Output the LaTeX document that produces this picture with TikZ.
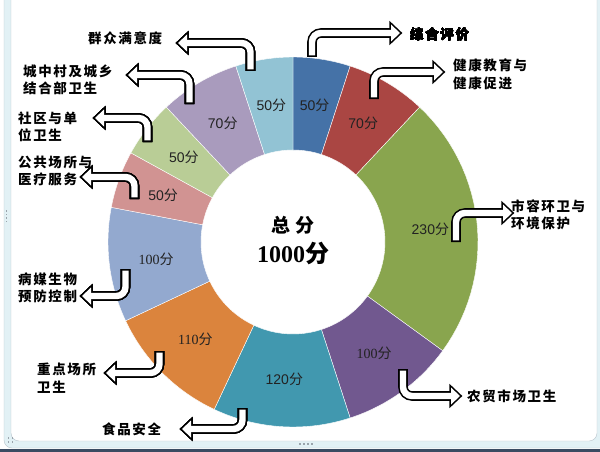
\documentclass[tikz,border=0pt]{standalone}
\usepackage{fontspec}
\setmainfont{Liberation Serif}
\setsansfont{Liberation Sans}
\newfontfamily\cjk{Noto Sans CJK SC}
\newfontfamily\cjkwide[LetterSpace=12]{Noto Sans CJK SC}
\usetikzlibrary{calc}
\definecolor{segA}{HTML}{4572A7}
\definecolor{segB}{HTML}{AA4643}
\definecolor{segC}{HTML}{89A54E}
\definecolor{segD}{HTML}{71588F}
\definecolor{segE}{HTML}{4198AF}
\definecolor{segF}{HTML}{DB843D}
\definecolor{segG}{HTML}{93A9CF}
\definecolor{segH}{HTML}{D19392}
\definecolor{segI}{HTML}{B9CD96}
\definecolor{segJ}{HTML}{A99BBD}
\definecolor{segK}{HTML}{92C3D4}
\definecolor{framegrey}{HTML}{B8C4CC}
\definecolor{framebg}{HTML}{E2F1F5}
\definecolor{barcol}{HTML}{3A4B62}
\definecolor{handle}{HTML}{9AA4AC}
\definecolor{labeltext}{HTML}{222222}
\newcommand{\fen}{{\cjk 分}}
\tikzset{
  arrowout/.style={line width=9.6pt, rounded corners=9pt, black},
  arrowin/.style={line width=6.4pt, rounded corners=9pt, white, shorten <=1.6pt},
  headout/.style={fill=black, draw=black, line width=3.2pt},
  valuelabel/.style={inner sep=0pt, text=labeltext, font=\fontsize{14}{16}\selectfont},
  callout/.style={anchor=west, align=left, inner sep=0pt,
    font=\cjkwide\bfseries\fontsize{13.5}{17.5}\selectfont}
}
\newcommand{\bentarrow}[3]{%
  \draw[arrowout] (#1) -- (#1 |- #2) -- ([xshift=#3]#2);
  \filldraw[headout] (#2) -- ([xshift=#3,yshift=8.5pt]#2) -- ([xshift=#3,yshift=-8.5pt]#2) -- cycle;
  \draw[arrowin] (#1) -- (#1 |- #2) -- ([xshift=#3]#2);
  \fill[white] (#2) -- ([xshift=#3,yshift=8.5pt]#2) -- ([xshift=#3,yshift=-8.5pt]#2) -- cycle;
}
\begin{document}
\begin{tikzpicture}[x=1pt,y=-1pt]
\useasboundingbox (0,0) rectangle (600,452);
% chart frame
\draw[framegrey, fill=framebg, rounded corners=8pt] (4,-12) rectangle (612,448);
\draw[framegrey, fill=white, rounded corners=8pt] (11,-12) rectangle (597,441);
\fill[barcol] (0,449) rectangle (600,452);
\foreach \y in {210,213.5,217,220.5}
\fill[handle] (5.5,\y) rectangle +(1.8,1.8);
\foreach \x in {299,303,307,311}
\fill[handle] (\x,443) rectangle +(1.8,1.8);
\foreach \x/\y in {7.5/437,11.5/437,7.5/441,11.5/441}
\fill[handle] (\x,\y) rectangle +(1.8,1.8);
% ring
\begin{scope}[shift={(293,242)}]
\foreach \a/\b/\c in {0/50/segA,50/120/segB,120/350/segC,350/450/segD,450/570/segE,570/680/segF,680/780/segG,780/830/segH,830/880/segI,880/950/segJ,950/1000/segK}
{
\pgfmathsetmacro\sa{-90+0.36*\a}
\pgfmathsetmacro\sb{-90+0.36*\b}
\fill[\c, draw=white, line width=0.4pt] plot[domain=\sa:\sb, samples=30] (\x:185) -- plot[domain=\sb:\sa, samples=30] (\x:92) -- cycle;
}
\foreach \a/\b/\pts/\fnt [count=\i] in {0/50/50/\sffamily,50/120/70/\sffamily,120/350/230/\sffamily,350/450/100/\rmfamily,450/570/120/\sffamily,570/680/110/\rmfamily,680/780/100/\rmfamily,780/830/50/\sffamily,830/880/50/\sffamily,880/950/70/\sffamily,950/1000/50/\sffamily}
\node[valuelabel] (v\i) at ({-90+0.18*(\a+\b)}:138) {\fnt\pts\fen};
\end{scope}
\node (c1) at (293,225) {\cjk\bfseries\fontsize{19}{22}\selectfont 总\hspace{5pt}分};
\node (c2) at (293,253) {\bfseries\fontsize{24}{28}\selectfont 1000{\cjk 分}};
% callouts
\coordinate (s1) at (312,57);    \coordinate (h1) at (400,33);
\coordinate (s2) at (374,99);    \coordinate (h2) at (443,72);
\coordinate (s3) at (456,242);   \coordinate (h3) at (512,213);
\coordinate (s4) at (403,369);   \coordinate (h4) at (460,396);
\coordinate (s5) at (242.5,408); \coordinate (h5) at (182,429);
\coordinate (s6) at (159.5,351); \coordinate (h6) at (106,373);
\coordinate (s7) at (125.5,269); \coordinate (h7) at (82,296);
\coordinate (s8) at (134.5,199); \coordinate (h8) at (82,177);
\coordinate (s9) at (147.5,142); \coordinate (h9) at (95,118);
\coordinate (s10) at (189.5,104); \coordinate (h10) at (128,75);
\coordinate (s11) at (250.5,71); \coordinate (h11) at (178,43);
\foreach \i in {1,2,3,4}
\bentarrow{s\i}{h\i}{-9pt}
\foreach \i in {5,6,7,8,9,10,11}
\bentarrow{s\i}{h\i}{9pt}
\node[callout] (t1) at (410,34) {综合评价};
\node[callout] (t2) at (453,74.5) {健康教育与\\健康促进};
\node[callout] (t3) at (511,215) {市容环卫与\\环境保护};
\node[callout] (t4) at (467,396) {农贸市场卫生};
\node[callout] (t5) at (102,429) {食品安全};
\node[callout] (t6) at (37,378) {重点场所\\卫生};
\node[callout] (t7) at (18,288) {病媒生物\\预防控制};
\node[callout] (t8) at (18,171) {公共场所与\\医疗服务};
\node[callout] (t9) at (18,127) {社区与单\\位卫生};
\node[callout] (t10) at (23,80) {城中村及城乡\\结合部卫生};
\node[callout] (t11) at (88,38) {群众满意度};
\end{tikzpicture}
\end{document}
